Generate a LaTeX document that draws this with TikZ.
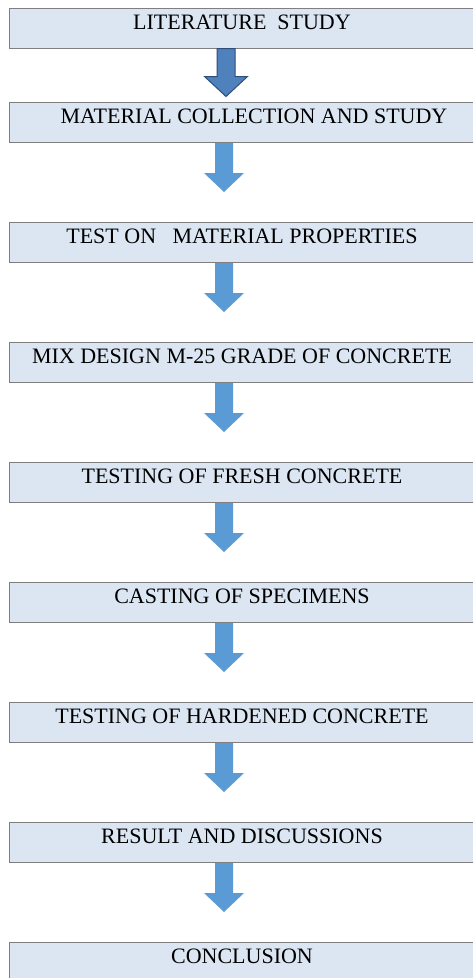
\documentclass[tikz,border=0pt]{standalone}
\usepackage{fontspec}
\setmainfont{Liberation Serif}
\usetikzlibrary{calc}
\definecolor{boxfill}{HTML}{DCE6F2}
\definecolor{boxline}{HTML}{7F7F7F}
\definecolor{arrfill}{HTML}{5B9BD5}
\definecolor{arrfirst}{HTML}{4F81BD}
\definecolor{arrfirstline}{HTML}{2E4D78}
\begin{document}
\begin{tikzpicture}[x=1pt,y=-1pt,
  stepbox/.style={draw=boxline, line width=1pt, fill=boxfill,
    minimum width=480pt, minimum height=40pt, inner sep=0pt,
    text height=15pt, text depth=13pt,
    execute at begin node={\hspace*{-15pt}},
    font=\fontsize{22}{22}\selectfont, anchor=north west},
  flowarrow/.style={fill=arrfill},
  firstarrow/.style={fill=arrfirst, draw=arrfirstline, line width=1pt}]
\useasboundingbox (0,0) rectangle (472,978);
\fill[white] (0,0) rectangle (472,978);
\node[stepbox] (b1) at (9,7.5) {LITERATURE\ \ STUDY};
\node[stepbox] (b2) at (9,102) {\hspace*{24pt}MATERIAL COLLECTION AND STUDY};
\node[stepbox] (b3) at (9,222) {TEST ON\ \ \ MATERIAL PROPERTIES};
\node[stepbox] (b4) at (9,342) {MIX DESIGN M-25 GRADE OF CONCRETE};
\node[stepbox] (b5) at (9,462) {TESTING OF FRESH CONCRETE};
\node[stepbox] (b6) at (9,582) {CASTING OF SPECIMENS};
\node[stepbox] (b7) at (9,702) {TESTING OF HARDENED CONCRETE};
\node[stepbox] (b8) at (9,822) {RESULT AND DISCUSSIONS};
\node[stepbox] (b9) at (9,942) {CONCLUSION};
% first arrow
\coordinate (a1) at ($(b1.south west)+(217,0)$);
\path[firstarrow] (a1) ++(-9,0) -- ++(18,0) -- ++(0,28) -- ++(12.5,0)
  -- ++(-21.5,20) -- ++(-21.5,-20) -- ++(12.5,0) -- cycle;
% other arrows
\foreach \i in {2,...,8}{
  \coordinate (a\i) at ($(b\i.south west)+(215,0)$);
  \path[flowarrow] (a\i) ++(-9,0) -- ++(18,0) -- ++(0,30) -- ++(11,0)
    -- ++(-20,19) -- ++(-20,-19) -- ++(11,0) -- cycle;
}
\end{tikzpicture}
\end{document}
